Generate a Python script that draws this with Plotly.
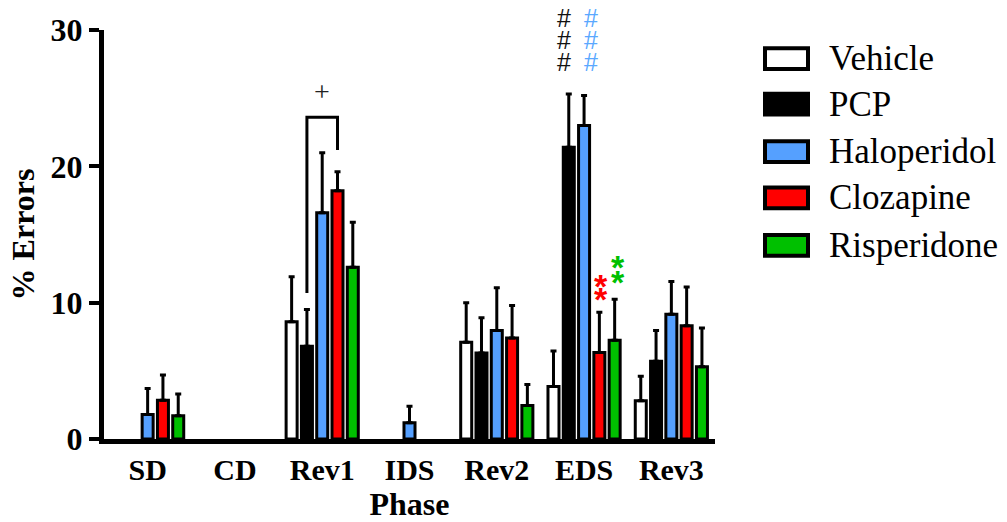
import plotly.graph_objects as go

phases = ["SD", "CD", "Rev1", "IDS", "Rev2", "EDS", "Rev3"]
groups = ["Vehicle", "PCP", "Haloperidol", "Clozapine", "Risperidone"]
colors = ["#FFFFFF", "#000000", "#55A0FF", "#FF0000", "#00C000"]

vehicle     = [0, 0, 8.6, 0, 7.1, 3.85, 2.8]
pcp         = [0, 0, 6.8, 0, 6.3, 21.4, 5.7]
haloperidol = [1.8, 0, 16.6, 1.2, 7.95, 23.0, 9.15]
clozapine   = [2.85, 0, 18.2, 0, 7.4, 6.35, 8.3]
risperidone = [1.7, 0, 12.6, 0, 2.45, 7.25, 5.3]

vehicle_err     = [0, 0, 3.3, 0, 2.9, 2.6, 1.8]
pcp_err         = [0, 0, 2.7, 0, 2.6, 3.9, 2.25]
haloperidol_err = [1.9, 0, 4.4, 1.2, 3.15, 2.2, 2.4]
clozapine_err   = [1.85, 0, 1.4, 0, 2.4, 2.95, 2.85]
risperidone_err = [1.6, 0, 3.3, 0, 1.55, 3.0, 2.85]

values = [vehicle, pcp, haloperidol, clozapine, risperidone]
errors = [vehicle_err, pcp_err, haloperidol_err, clozapine_err, risperidone_err]

FONT = "Liberation Serif"
xpos = list(range(len(phases)))

fig = go.Figure()
for name, col, v, e in zip(groups, colors, values, errors):
    fig.add_trace(go.Bar(
        name=name, x=xpos, y=[val if val > 0 else None for val in v],
        marker=dict(color=col, line=dict(color="black", width=3)),
        error_y=dict(type="data", array=e, arrayminus=[0]*len(e), symmetric=False,
                     color="black", thickness=3, width=3),
        showlegend=False,
    ))

slot = (1 - 0.124) / 5  # width of one bar slot in category units

# bracket over Rev1 (PCP vs Clozapine)
xl, xr = 2 - slot, 2 + slot
fig.add_shape(type="path", xref="x", yref="y",
              path=f"M {xl} 10.7 L {xl} 23.6 L {xr} 23.6 L {xr} 21.2",
              line=dict(color="black", width=3))

L, R, T, B = 104, 715, 26, 440
W, H = R - L, B - T
def px(x): return (x - L) / W
def py(y): return (B - y) / H

# significance marks
fig.add_annotation(x=2.0, y=py(88), xref="x", yref="paper", yanchor="middle", text="+",
                   showarrow=False, font=dict(family=FONT, size=28, color="#222222"))
for yy in [13.5, 36, 58]:
    fig.add_annotation(x=4.77, y=py(yy), xref="x", yref="paper", yanchor="middle", text="#",
                       showarrow=False, font=dict(family="Liberation Sans", size=25, color="#111111"))
    fig.add_annotation(x=5.08, y=py(yy), xref="x", yref="paper", yanchor="middle", text="#",
                       showarrow=False, font=dict(family="Liberation Sans", size=25, color="#5AA8FF"))
for yy in [11.2, 10.25]:
    fig.add_annotation(x=5.19, y=yy, xref="x", yref="y", yanchor="middle", text="<b>*</b>",
                       showarrow=False, font=dict(family="Liberation Sans", size=34, color="#FF0000"))
for yy in [12.6, 11.55]:
    fig.add_annotation(x=5.385, y=yy, xref="x", yref="y", yanchor="middle", text="<b>*</b>",
                       showarrow=False, font=dict(family="Liberation Sans", size=34, color="#00C000"))

# manual legend
legend_y = [55, 101, 149, 196, 244]
for name, col, ly in zip(groups, colors, legend_y):
    fig.add_shape(type="rect", xref="paper", yref="paper",
                  x0=px(765), x1=px(808), y0=py(ly + 10.5), y1=py(ly - 10.5),
                  line=dict(color="black", width=4), fillcolor=col)
    fig.add_annotation(xref="paper", yref="paper", x=px(827), y=py(ly), text=name,
                       xanchor="left", yanchor="middle", showarrow=False,
                       font=dict(family=FONT, size=35, color="black"))

fig.update_layout(
    width=1007, height=522,
    margin=dict(l=L, r=1007 - R, t=T, b=522 - B),
    plot_bgcolor="white", paper_bgcolor="white",
    barmode="group", bargap=0.124, bargroupgap=0.28,
    font=dict(family=FONT, color="black"),
)
fig.update_xaxes(range=[-0.5, 6.5], tickvals=xpos, ticktext=[f"<b>{p}</b>" for p in phases],
                 showline=True, linecolor="black", linewidth=5, ticks="",
                 showgrid=False, zeroline=False,
                 tickfont=dict(family=FONT, size=30, color="black"),
                 title=dict(text="<b>Phase</b>", font=dict(family=FONT, size=32), standoff=2))
fig.update_yaxes(range=[0, 30], tickvals=[0, 10, 20, 30], ticktext=["<b>0</b>", "<b>10</b>", "<b>20</b>", "<b>30</b>"],
                 showline=True, linecolor="black", linewidth=5, ticks="outside", ticklen=10,
                 tickwidth=4, tickcolor="black", showgrid=False, zeroline=False,
                 tickfont=dict(family=FONT, size=32, color="black"),
                 title=dict(text="<b>% Errors</b>", font=dict(family=FONT, size=32), standoff=8))

fig.write_html("out.html")
